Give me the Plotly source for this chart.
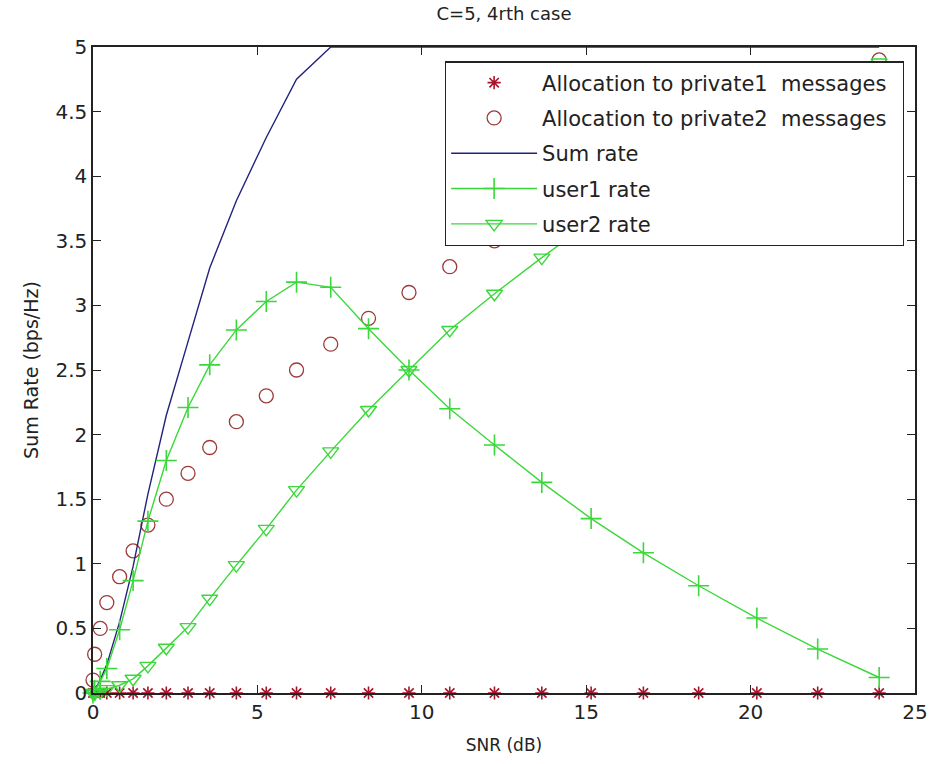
import plotly.graph_objects as go

# SNR grid (dB)
snr_db = [0.0, 0.05, 0.22, 0.42, 0.81, 1.22, 1.67, 2.23, 2.89, 3.55, 4.36, 5.27,
          6.19, 7.23, 8.38, 9.61, 10.85, 12.21, 13.65, 15.15, 16.74, 18.42,
          20.19, 22.04, 23.91]

# rate allocation to private messages
private1_alloc = [0.0] * 25
private2_alloc = [0.1, 0.3, 0.5, 0.7, 0.9, 1.1, 1.3, 1.5, 1.7, 1.9, 2.1, 2.3,
                  2.5, 2.7, 2.9, 3.1, 3.3, 3.5, 3.7, 3.9, 4.1, 4.3, 4.5, 4.7, 4.9]

# achievable rates (bps/Hz)
sum_rate = [0.0, 0.02, 0.10, 0.22, 0.55, 0.98, 1.54, 2.15, 2.72, 3.29, 3.81,
            4.30, 4.75, 5.0, 5.0, 5.0, 5.0, 5.0, 5.0, 5.0, 5.0, 5.0, 5.0, 5.0, 5.0]
user1_rate = [0.0, 0.02, 0.09, 0.19, 0.49, 0.87, 1.33, 1.80, 2.21, 2.54, 2.81,
              3.03, 3.18, 3.14, 2.82, 2.50, 2.20, 1.92, 1.63, 1.35, 1.085,
              0.83, 0.58, 0.34, 0.12]
user2_rate = [0.0, 0.0, 0.01, 0.03, 0.06, 0.11, 0.21, 0.35, 0.51, 0.73, 0.99,
              1.27, 1.57, 1.87, 2.19, 2.50, 2.81, 3.09, 3.37, 3.65, 3.92,
              4.17, 4.42, 4.66, 4.88]

GREEN = "#3ad83a"
FONT = "DejaVu Sans"
PAD = "\u2002"  # trailing room inside the legend box

fig = go.Figure()
fig.add_trace(go.Scatter(
    x=snr_db, y=private1_alloc, mode="markers",
    name="Allocation to private1  messages" + PAD,
    marker=dict(symbol="asterisk-open", size=11, color="#a8142c",
                line=dict(color="#a8142c", width=1.6)),
    cliponaxis=False, legendgroup="a"))
fig.add_trace(go.Scatter(
    x=snr_db, y=private2_alloc, mode="markers",
    name="Allocation to private2  messages" + PAD,
    marker=dict(symbol="circle-open", size=14, color="#9c3a3a",
                line=dict(color="#9c3a3a", width=1.3)),
    cliponaxis=False, legendgroup="b"))
fig.add_trace(go.Scatter(
    x=snr_db, y=sum_rate, mode="lines", name="Sum rate",
    line=dict(color="#23237c", width=1.4), legendgroup="c"))
fig.add_trace(go.Scatter(
    x=snr_db, y=user1_rate, mode="lines+markers", name="user1 rate",
    line=dict(color=GREEN, width=1.4),
    marker=dict(symbol="cross-thin-open", size=15, color=GREEN,
                line=dict(color=GREEN, width=1.6)),
    cliponaxis=False, legendgroup="d"))
fig.add_trace(go.Scatter(
    x=snr_db, y=user2_rate, mode="lines+markers", name="user2 rate",
    line=dict(color=GREEN, width=1.4),
    marker=dict(symbol="triangle-down-open", size=14, color=GREEN,
                line=dict(color=GREEN, width=1.4)),
    cliponaxis=False, legendgroup="e"))

axis_common = dict(
    showgrid=False, zeroline=False, showline=True, linecolor="#222222",
    linewidth=1.5, mirror="ticks", ticks="inside", ticklen=8, tickwidth=1.3,
    tickcolor="#222222", tickfont=dict(family=FONT, size=20, color="#222222"),
    automargin=False,
)

fig.update_layout(
    width=930, height=764,
    margin=dict(l=93, r=15, t=47, b=71),
    paper_bgcolor="white", plot_bgcolor="white",
    font=dict(family=FONT, color="#222222"),
    title=dict(text="C=5, 4rth case", xref="paper", x=0.5, xanchor="center",
               yref="container", y=1 - 14 / 764, yanchor="middle",
               font=dict(family=FONT, size=18, color="#222222")),
    xaxis=dict(range=[0, 25], dtick=5, tick0=0,
               title=dict(text="SNR (dB)", standoff=16,
                          font=dict(family=FONT, size=17, color="#222222")),
               **axis_common),
    yaxis=dict(range=[0, 5], dtick=0.5, tick0=0,
               title=dict(text="Sum Rate (bps/Hz)", standoff=12,
                          font=dict(family=FONT, size=19, color="#222222")),
               **axis_common),
    legend=dict(x=0.428, y=0.978, xanchor="left", yanchor="top",
                bgcolor="white", bordercolor="#222222", borderwidth=1.3,
                font=dict(family=FONT, size=21, color="#222222"),
                itemwidth=86, tracegroupgap=5, traceorder="grouped"),
    showlegend=True,
)

fig.write_html("out.html")
